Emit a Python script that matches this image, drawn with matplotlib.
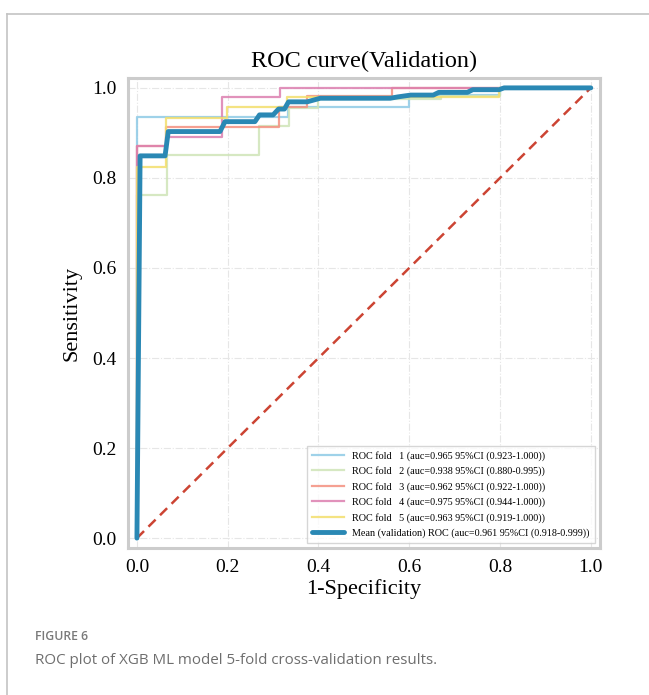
import matplotlib

matplotlib.use("Agg")

import matplotlib.pyplot as plt
from matplotlib.lines import Line2D

# step points (fpr, tpr)
fold1_fpr = [0, 0, 0.333, 0.333, 0.600, 0.600, 0.800, 0.800, 1.0]
fold1_tpr = [0, 0.936, 0.936, 0.958, 0.958, 0.984, 0.984, 1.0, 1.0]

fold2_fpr = [0, 0, 0.066, 0.066, 0.268, 0.268, 0.334, 0.334, 0.400, 0.400, 0.669, 0.669, 0.735, 0.735, 0.800, 0.800, 1.0]
fold2_tpr = [0, 0.762, 0.762, 0.850, 0.850, 0.915, 0.915, 0.955, 0.955, 0.976, 0.976, 0.983, 0.983, 0.983, 0.983, 1.0, 1.0]

fold3_fpr = [0, 0, 0.065, 0.065, 0.314, 0.314, 0.375, 0.375, 0.562, 0.562, 1.0]
fold3_tpr = [0, 0.870, 0.870, 0.913, 0.913, 0.958, 0.958, 0.981, 0.981, 1.0, 1.0]

fold4_fpr = [0, 0, 0.065, 0.065, 0.187, 0.187, 0.316, 0.316, 1.0]
fold4_tpr = [0, 0.870, 0.870, 0.892, 0.892, 0.979, 0.979, 1.0, 1.0]

fold5_fpr = [0, 0, 0.065, 0.065, 0.198, 0.198, 0.330, 0.330, 0.797, 0.797, 1.0]
fold5_tpr = [0, 0.824, 0.824, 0.934, 0.934, 0.957, 0.957, 0.979, 0.979, 1.0, 1.0]

mean_fpr = [0, 0.007, 0.062, 0.069, 0.183, 0.194, 0.260, 0.270, 0.300, 0.312, 0.325,
            0.334, 0.375, 0.404, 0.558, 0.575, 0.603, 0.653, 0.665, 0.728, 0.740,
            0.798, 0.809, 1.0]
mean_tpr = [0, 0.849, 0.849, 0.903, 0.903, 0.925, 0.925, 0.940, 0.940, 0.953, 0.953,
            0.969, 0.969, 0.977, 0.977, 0.980, 0.984, 0.984, 0.990, 0.990, 0.996,
            0.996, 1.0, 1.0]

fold_labels = [
    "ROC fold   1 (auc=0.965 95%CI (0.923-1.000))",
    "ROC fold   2 (auc=0.938 95%CI (0.880-0.995))",
    "ROC fold   3 (auc=0.962 95%CI (0.922-1.000))",
    "ROC fold   4 (auc=0.975 95%CI (0.944-1.000))",
    "ROC fold   5 (auc=0.963 95%CI (0.919-1.000))",
]
mean_label = "Mean (validation) ROC (auc=0.961 95%CI (0.918-0.999))"
fold_colors = ["#8ecae6", "#cfe4b8", "#f4907f", "#dc7fb0", "#f3de6c"]
mean_color = "#2a88b4"

folds = [
    (fold1_fpr, fold1_tpr),
    (fold2_fpr, fold2_tpr),
    (fold3_fpr, fold3_tpr),
    (fold4_fpr, fold4_tpr),
    (fold5_fpr, fold5_tpr),
]

serif = ["Liberation Serif", "DejaVu Serif"]
sans = ["Open Sans", "DejaVu Sans"]

fig = plt.figure(figsize=(6.49, 6.95), dpi=100)

# page frame lines (left and top)
fig.add_artist(Line2D([7 / 649, 7 / 649], [0, 1 - 14 / 695], color="#c4c4c4", lw=1.2))
fig.add_artist(Line2D([7 / 649, 1], [1 - 14 / 695, 1 - 14 / 695], color="#c4c4c4", lw=1.2))

ax = fig.add_axes([0.197, 0.2115, 0.7273, 0.6763])

for (fpr, tpr), color, label in zip(folds, fold_colors, fold_labels):
    ax.plot(fpr, tpr, color=color, lw=1.6, alpha=0.85, label=label)

ax.plot([0, 1], [0, 1], color="#cc4433", lw=1.8, linestyle=(0, (4, 2.5)))
ax.plot(mean_fpr, mean_tpr, color=mean_color, lw=3.5, label=mean_label,
        solid_capstyle="round")

ax.set_xlim(-0.02, 1.02)
ax.set_ylim(-0.022, 1.022)
ticks = [0, 0.2, 0.4, 0.6, 0.8, 1.0]
tick_labels = ["0.0", "0.2", "0.4", "0.6", "0.8", "1.0"]
ax.set_xticks(ticks)
ax.set_yticks(ticks)
ax.set_xticklabels(tick_labels, family=serif, fontsize=14)
ax.set_yticklabels(tick_labels, family=serif, fontsize=14)
ax.tick_params(length=0, pad=8)
ax.grid(True, color="#e6e6e6", linestyle="-.", lw=0.8)
ax.set_axisbelow(True)
for spine in ax.spines.values():
    spine.set_color("#cccccc")
    spine.set_linewidth(2.2)

ax.set_title("ROC curve(Validation)", family=serif, fontsize=17.5, pad=8)
ax.set_xlabel("1-Specificity", family=serif, fontsize=16, labelpad=2)
ax.set_ylabel("Sensitivity", family=serif, fontsize=16, labelpad=8)

leg = ax.legend(loc="lower right", prop={"family": serif, "size": 7.3},
                frameon=True, fancybox=False, edgecolor="#cccccc",
                handlelength=3.2, borderpad=0.5, labelspacing=0.55)
leg.get_frame().set_linewidth(1.0)

fig.text(35 / 649, 1 - 636 / 695, "FIGURE 6", family=sans, fontsize=8.8,
         fontweight="semibold", color="#7a7a7a", va="center")
fig.text(35 / 649, 1 - 660 / 695, "ROC plot of XGB ML model 5-fold cross-validation results.",
         family=sans, fontsize=10.9, color="#6e6e6e", va="center")

fig.savefig("out.png", dpi=100)
